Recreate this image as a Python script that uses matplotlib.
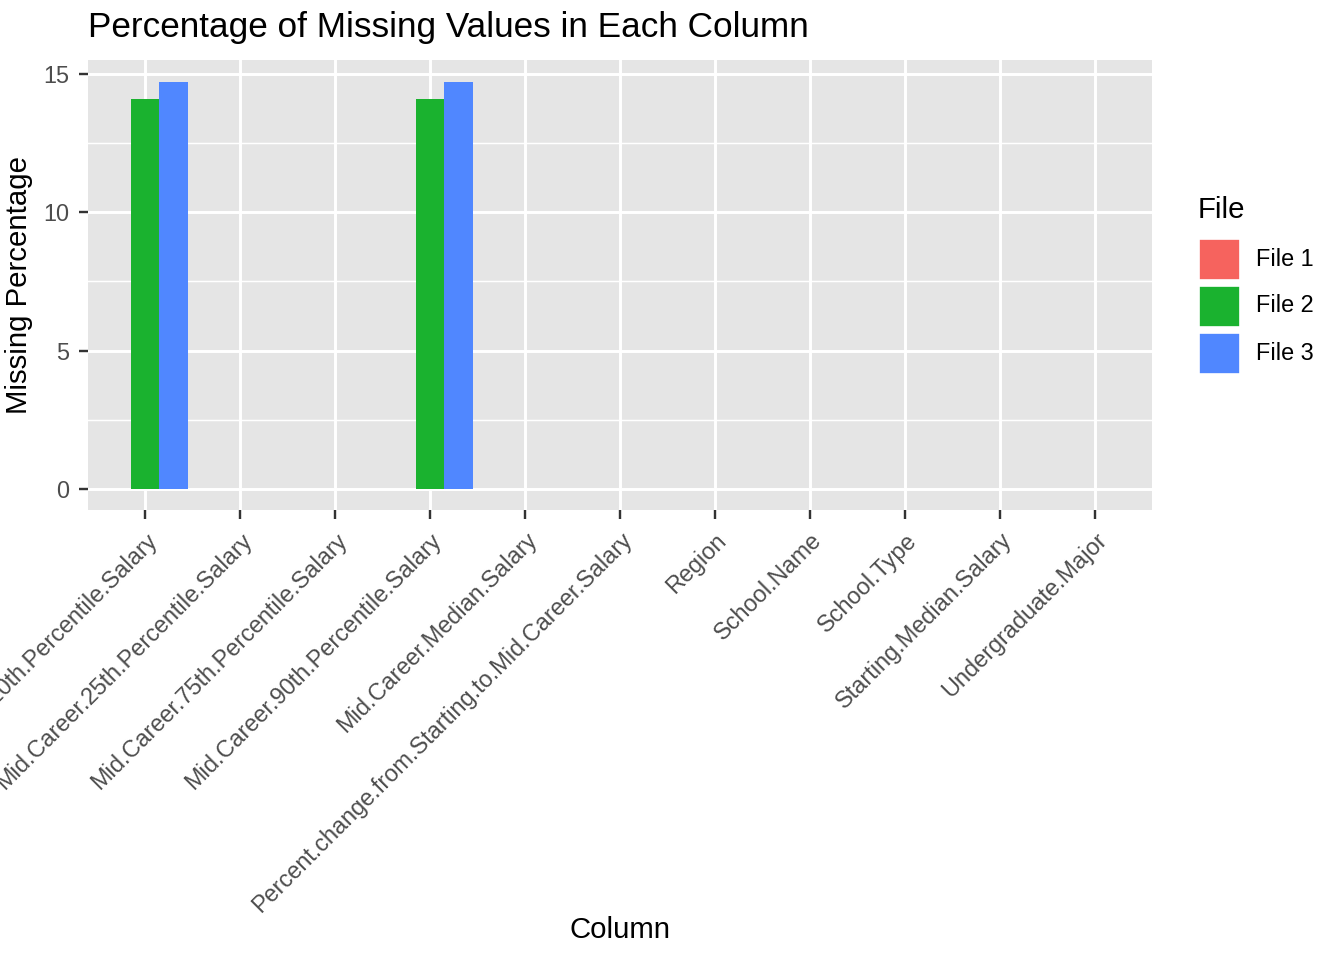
import numpy as np
import matplotlib.pyplot as plt
from matplotlib.patches import Rectangle

plt.rcParams['font.family'] = ['Liberation Sans', 'DejaVu Sans']

columns = ["Mid.Career.10th.Percentile.Salary", "Mid.Career.25th.Percentile.Salary",
           "Mid.Career.75th.Percentile.Salary", "Mid.Career.90th.Percentile.Salary",
           "Mid.Career.Median.Salary", "Percent.change.from.Starting.to.Mid.Career.Salary",
           "Region", "School.Name", "School.Type", "Starting.Median.Salary",
           "Undergraduate.Major"]
files = ["File 1", "File 2", "File 3"]
colors = ["#F6635E", "#1AB22F", "#5087FF"]
file1 = [0, 0, 0, 0, 0, 0, 0, 0, 0, 0, 0]
file2 = [14.1, 0, 0, 14.1, 0, 0, 0, 0, 0, 0, 0]
file3 = [14.7, 0, 0, 14.7, 0, 0, 0, 0, 0, 0, 0]
series = [file1, file2, file3]

fig = plt.figure(figsize=(7, 5), dpi=192)
ax = fig.add_axes([88/1344, 1-510/960, (1152-88)/1344, 450/960])
ax.set_facecolor("#E5E5E5")
x = np.arange(1, len(columns) + 1)
w = 0.3
for i, (vals, c) in enumerate(zip(series, colors)):
    ax.bar(x + (i - 1) * w, vals, width=w, color=c, zorder=3)

ax.set_xlim(0.4, 11.6)
ax.set_ylim(-0.76, 15.5)
ax.set_yticks([0, 5, 10, 15])
ax.set_yticks([2.5, 7.5, 12.5], minor=True)
ax.set_xticks(x)
ax.set_xticklabels(columns, rotation=45, ha='right', rotation_mode='anchor')
ax.grid(which='major', color='white', linewidth=1.1, zorder=0)
ax.grid(which='minor', axis='y', color='white', linewidth=0.55, zorder=0)
ax.tick_params(which='major', colors='#333333', labelsize=8.8, length=3.5, width=0.9,
               labelcolor='#4D4D4D')
ax.tick_params(which='minor', length=0)
for s in ax.spines.values():
    s.set_visible(False)
ax.set_ylabel("Missing Percentage", fontsize=11)
fig.text(620/1344, 1-930/960, "Column", fontsize=11, va='center', ha='center')
fig.text(88/1344, 1-28/960, "Percentage of Missing Values in Each Column",
         fontsize=13.2, va='center', ha='left')

# legend
fig.text(1198/1344, 1-210/960, "File", fontsize=11, va='center')
for i, (f, c) in enumerate(zip(files, colors)):
    top = 238 + i * 47
    fig.patches.append(Rectangle((1198/1344, 1-(top+42)/960), 42/1344, 42/960,
                                 transform=fig.transFigure, facecolor=c,
                                 edgecolor='white', linewidth=1))
    fig.text(1256/1344, 1-(top+21)/960, f, fontsize=8.8, va='center')

fig.savefig("out.png", dpi=192)
